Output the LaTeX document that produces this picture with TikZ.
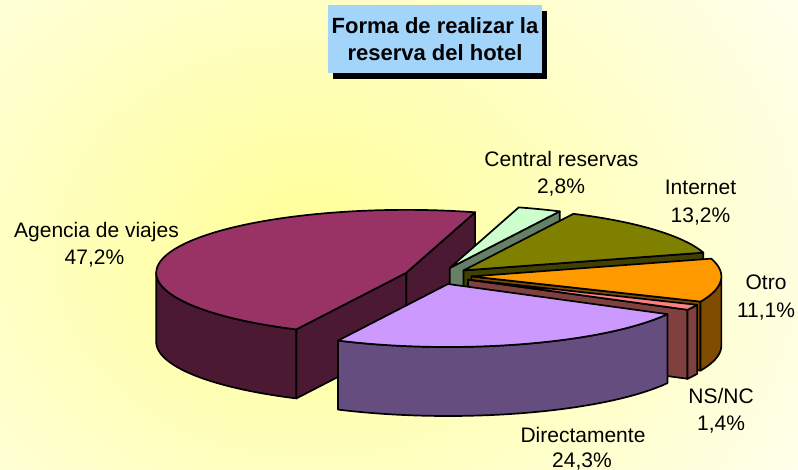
\documentclass[tikz,border=0pt]{standalone}
\usepackage{fontspec}
\setmainfont{Liberation Sans}
\usetikzlibrary{shadows}
\definecolor{bgcream}{RGB}{255,255,247}
\definecolor{bgyellow}{RGB}{255,255,150}
\definecolor{ttlblue}{RGB}{163,212,250}
\definecolor{agtop}{RGB}{153,51,102}
\definecolor{agside}{RGB}{76,25,51}
\definecolor{crtop}{RGB}{204,255,204}
\definecolor{crside}{RGB}{102,128,102}
\definecolor{intop}{RGB}{128,128,0}
\definecolor{inside}{RGB}{64,64,0}
\definecolor{ottop}{RGB}{255,153,0}
\definecolor{otside}{RGB}{128,77,0}
\definecolor{nstop}{RGB}{255,128,128}
\definecolor{nsside}{RGB}{128,64,64}
\definecolor{ditop}{RGB}{204,153,255}
\definecolor{diside}{RGB}{102,77,128}
\def\pcx{437.7}\def\pcy{275.9}\def\pra{250}\def\prb{63}\def\pdh{69}\def\pex{0.135}
\newcommand\slicesetup[2]{%
  \pgfmathsetmacro\slmid{(#1+#2)/2}%
  \pgfmathsetmacro\apx{\pcx+\pex*\pra*cos(\slmid)}%
  \pgfmathsetmacro\apy{\pcy-\pex*\prb*sin(\slmid)}}
\newcommand\topface[3]{%
  \filldraw[slicefill, fill=#3] (\apx,\apy) -- plot[domain=#1:#2, samples=60] ({\apx+\pra*cos(\x)},{\apy-\prb*sin(\x)}) -- cycle;}
\newcommand\wallface[3]{%
  \filldraw[slicefill, fill=#3] plot[domain=#1:#2, samples=40] ({\apx+\pra*cos(\x)},{\apy-\prb*sin(\x)}) -- plot[domain=#2:#1, samples=40] ({\apx+\pra*cos(\x)},{\apy-\prb*sin(\x)+\pdh}) -- cycle;}
\newcommand\radface[2]{%
  \pgfmathsetmacro\rfx{\apx+\pra*cos(#1)}%
  \pgfmathsetmacro\rfy{\apy-\prb*sin(#1)}%
  \filldraw[slicefill, fill=#2] (\apx,\apy) -- (\rfx,\rfy) -- (\rfx,{\rfy+\pdh}) -- (\apx,{\apy+\pdh}) -- cycle;}
\tikzset{
  slicefill/.style={draw=black, line width=1.7pt, line join=round},
  lbl/.style={font=\fontsize{21}{25}\selectfont, anchor=base, inner sep=0pt},
  ttlbox/.style={fill=ttlblue, minimum width=214pt, minimum height=68pt, inner sep=0pt,
    align=center, font=\fontsize{22}{27.6}\selectfont\bfseries,
    drop shadow={shadow xshift=5pt, shadow yshift=-6pt, fill=black, opacity=1}}
}
\begin{document}
\begin{tikzpicture}[x=1pt, y=-1pt]
\useasboundingbox (0,0) rectangle (798,470);
\fill[bgcream] (0,0) rectangle (798,470);
\begin{scope}
  \clip (0,0) rectangle (798,470);
  \shade[inner color=bgyellow, outer color=bgcream] (-330,-270) rectangle (950,770);
\end{scope}
% title
\node[ttlbox] (title) at (435,39) {Forma de realizar la\\reserva del hotel};
% Agencia de viajes
\slicesetup{74}{243.92}
\radface{74}{agside}
\radface{243.92}{agside}
\wallface{180}{243.92}{agside}
\topface{74}{243.92}{agtop}
% Central reservas
\slicesetup{63.92}{74}
\radface{63.92}{crside}
\topface{63.92}{74}{crtop}
% Internet
\slicesetup{16.40}{63.92}
\radface{16.40}{inside}
\topface{16.40}{63.92}{intop}
% Otro
\slicesetup{-23.56}{16.40}
\radface{-23.56}{otside}
\wallface{-23.56}{0}{otside}
\topface{-23.56}{16.40}{ottop}
% NS/NC
\slicesetup{-28.60}{-23.56}
\radface{-28.60}{nsside}
\wallface{-28.60}{-23.56}{nsside}
\topface{-28.60}{-23.56}{nstop}
% Directamente
\slicesetup{-116.08}{-28.60}
\wallface{-116.08}{-28.60}{diside}
\topface{-116.08}{-28.60}{ditop}
% labels
\node[lbl] (crname) at (561.5,166.5) {Central reservas};
\node[lbl] (crpct) at (561,194) {2,8\%};
\node[lbl] (inname) at (700.5,195) {Internet};
\node[lbl] (inpct) at (700.5,222.5) {13,2\%};
\node[lbl] (agname) at (96.5,238) {Agencia de viajes};
\node[lbl] (agpct) at (94.5,265) {47,2\%};
\node[lbl] (otname) at (766,290) {Otro};
\node[lbl] (otpct) at (766,318) {11,1\%};
\node[lbl] (nsname) at (721,403) {NS/NC};
\node[lbl] (nspct) at (721,430) {1,4\%};
\node[lbl] (diname) at (583,442) {Directamente};
\node[lbl] (dipct) at (582,467) {24,3\%};
\end{tikzpicture}
\end{document}
